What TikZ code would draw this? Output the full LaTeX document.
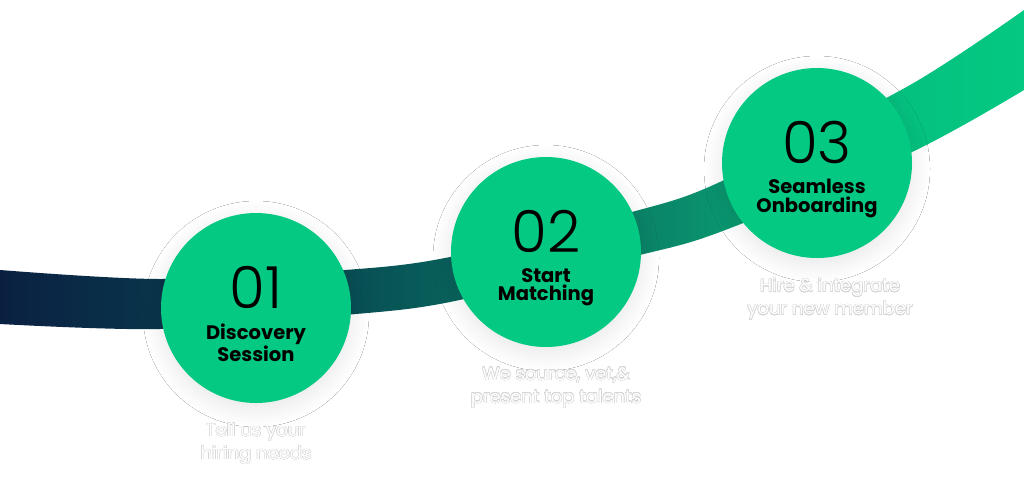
\documentclass[tikz,border=0pt]{standalone}
\usepackage{fontspec}
\setmainfont{Poppins}
\newfontfamily\numfont{Poppins Light}
\usepackage{contour}
\contourlength{0.45pt}
\usetikzlibrary{shadows.blur}
\definecolor{stepgreen}{RGB}{4,201,130}
\definecolor{bandnavy}{RGB}{10,32,66}
\definecolor{bandteal}{RGB}{8,78,84}
\definecolor{bandmid}{RGB}{10,138,106}
\definecolor{bandlight}{RGB}{5,192,127}
\pgfdeclarehorizontalshading{bandshade}{100bp}{color(0bp)=(bandnavy); color(25bp)=(bandnavy); color(42bp)=(bandteal); color(58bp)=(bandmid); color(69bp)=(bandlight); color(75bp)=(stepgreen); color(100bp)=(stepgreen)}
\newcommand{\faint}[1]{\contour{black!16}{#1}}

\begin{document}
\begin{tikzpicture}[x=1pt, y=-1pt,
  stepdot/.style={circle, fill=stepgreen, minimum size=190pt, inner sep=0pt,
    blur shadow={shadow xshift=0pt, shadow yshift=-6pt, shadow blur radius=18pt, shadow blur steps=16, shadow opacity=10}},
  stepnum/.style={anchor=base, inner sep=0pt, font=\numfont\fontsize{58}{58}\selectfont},
  steptitle/.style={anchor=north, inner sep=0pt, align=center, font=\bfseries\fontsize{19.5}{18.5}\selectfont},
  stepnote/.style={anchor=north, inner sep=0pt, align=center, text=white, font=\fontsize{18}{23}\selectfont}]

\useasboundingbox[fill=white] (0,0) rectangle (1024,483);
\shade[shading=bandshade] plot[smooth] coordinates {(0,270) (160,279) (345,270) (450,257) (632,212) (720,182) (910,85) (1024,10)}
  -- plot[smooth] coordinates {(1024,90) (910,153) (720,232) (632,257) (450,302) (345,315) (160,329) (0,324)} -- cycle;

\foreach \i/\x/\y/\num/\title/\nx/\note in {
  1/256/308/01/{Discovery\\Session}/256/{\faint{Tell us your}\\\faint{hiring needs}},
  2/546/252/02/{Start\\Matching}/556/{\faint{We source, vet,\&}\\\faint{present top talents}},
  3/817/163/03/{Seamless\\Onboarding}/830/{\faint{Hire \& integrate}\\\faint{your new member}}}
{
  \node[stepdot] (c\i) at (\x,\y) {};
  \node[stepnum] (n\i) at (\x,\y) {\num};
  \node[steptitle] (t\i) at (\x,\y+16) {\title};
  \node[stepnote] (d\i) at (\nx,\y+115) {\note};
}

\end{tikzpicture}
\end{document}
